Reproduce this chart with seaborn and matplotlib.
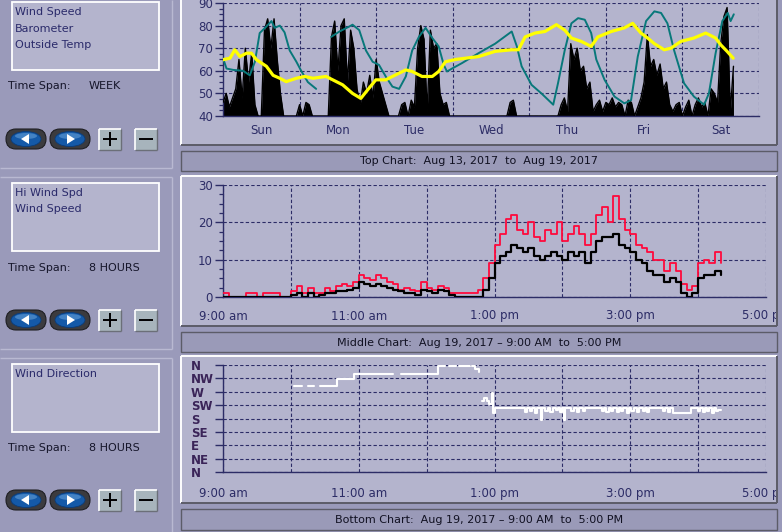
import numpy as np
import pandas as pd
import matplotlib
matplotlib.use("Agg")
import matplotlib.pyplot as plt
import seaborn as sns
from matplotlib.patches import Rectangle, FancyBboxPatch, Ellipse, Polygon
from matplotlib.transforms import Bbox, TransformedBbox
from matplotlib.ticker import MultipleLocator, FixedLocator

# ------------------------------------------------------------------ data
legend_top = ["Wind Speed", "Barometer", "Outside Temp"]
legend_mid = ["Hi Wind Spd", "Wind Speed"]
legend_bot = ["Wind Direction"]
span_values = ["WEEK", "8 HOURS", "8 HOURS"]
title_top = "Top Chart:  Aug 13, 2017  to  Aug 19, 2017"
title_mid = "Middle Chart:  Aug 19, 2017 \u2013 9:00 AM  to  5:00 PM"
title_bot = "Bottom Chart:  Aug 19, 2017 \u2013 9:00 AM  to  5:00 PM"

day_labels = ["Sun", "Mon", "Tue", "Wed", "Thu", "Fri", "Sat"]
top_yticks = [40, 50, 60, 70, 80, 90]

# hourly wind speed (display scale) from Sun 00:00
week_wind = [46, 50, 44, 48, 52, 65, 48, 70, 55, 68, 45, 40, 40,
             78, 83, 70, 83, 65, 50, 40,
             40, 40, 40, 40,
             45, 40, 46, 45, 40,
             40, 40, 40, 40, 40,
             75, 82, 60, 80, 83, 55, 78, 70, 52,
             45, 55, 50, 58, 48, 65, 55, 50, 45,
             40, 40, 40, 40,
             45, 46, 40, 47, 44,
             70, 80, 74, 42, 78, 70, 72, 50, 45, 46, 40,
             40, 40, 40, 40, 40, 40, 40, 40, 40, 40, 40, 40, 40, 40, 40, 40, 40, 40,
             46, 47, 40,
             40, 40, 40, 40, 40, 40, 40, 40, 40, 40, 40, 40, 40,
             45, 48, 42, 72, 65, 70, 60, 62, 52, 55, 42,
             45, 47, 42, 46, 45, 48, 44, 46, 45, 40, 47, 46, 40, 44, 48,
             55, 76, 62, 65, 58, 63, 52, 55, 45, 42,
             45, 46, 40, 44, 47, 40, 45, 48, 44, 46, 40, 52, 50, 46,
             72, 84, 88, 42, 62]

temp_hours = [0, 1.1, 3.2, 6.3, 8.4, 10.0, 11.5, 13.6, 15.2, 16.2,
              17.8, 19.3, 20.9, 23.0, 24.5, 26.6, 29.2, 31.0, 33.9, 36.5,
              39.6, 40.6, 42.7, 44.8, 46.9, 48.9, 51.0, 53.1, 55.2, 57.3,
              59.3, 61.4, 63.5, 65.6, 67.6, 69.2, 70.2, 71.8, 74.9, 80.1,
              85.3, 90.5, 92.1, 93.6, 96.7, 99.8, 103.5, 105.0, 107.1, 109.2,
              111.3, 113.4, 115.4, 117.0, 119.6, 122.7, 125.8, 127.9, 130.0, 132.6,
              135.2, 137.3, 139.3, 141.4, 144.5, 147.6, 150.8, 152.3, 154.4, 156.5,
              158.2, 159.1, 160.1]
temp_values = [65.6, 61, 60.4, 60, 58, 64, 76.7, 79.6, 82, 79,
               80, 77, 69, 64, 60, 55, 52, np.nan, 75, 77.4,
               79.6, 80.4, 78, 69, 64, 62.6, 57.5, 53, 52, 57.5,
               69, 75, 79, 74.5, 70.8, 62.6, 59.7, 61, 63.4, 67.8,
               72, 77.4, 70.8, 62, 53.8, 50, 45, 54.5, 69, 81,
               83.3, 82.6, 76.7, 65, 56, 48.6, 45.6, 47, 66.3, 82,
               86.3, 85.6, 81, 69, 54.5, 48.6, 45, 50, 67.8, 82,
               85.6, 82, 85]

baro_hours = [0, 2.2, 3.7, 5.3, 7.4, 8.9, 10.5, 13.6, 15.7, 17.8,
              19.8, 23.0, 25.6, 28.2, 32.3, 34.4, 37.5, 40.6, 43.2, 45.3,
              47.9, 51.0, 53.1, 57.3, 59.3, 62.4, 65.6, 67.6, 69.7, 72.8,
              80.1, 85.3, 90.5, 92.6, 94.7, 97.8, 100.9, 104.5, 107.1, 109.2,
              112.3, 115.4, 117.5, 121.7, 125.8, 128.4, 131.0, 133.1, 135.2, 138.3,
              140.4, 143.5, 147.6, 151.3, 154.4, 156.0, 158.0, 159.9]
baro_values = [64.9, 65.6, 69.3, 66.3, 67.8, 67.8, 64.9, 62, 58, 56.7,
               55.2, 56.7, 57.5, 56.7, 57.5, 56, 53.8, 50, 47.8, 51.5,
               56, 56, 57.5, 60.4, 59.7, 57.5, 57.5, 59.7, 64, 65,
               66.3, 68.6, 69.3, 69.3, 75, 76.7, 77.4, 80.4, 78, 74.5,
               73, 70.8, 75, 77.4, 79, 81, 76.7, 74.5, 72, 69.3,
               70, 73, 74.5, 76.7, 74.5, 71.5, 68.6, 65.6]

# middle chart: 5-minute samples from 9:00
mid_minutes = list(range(0, 445, 5))
hi_wind = [1, 0, 0, 0, 1, 1, 0, 1, 1, 1, 0, 0,
           1.5, 3, 1, 2.5, 1, 1, 2.5, 1.5, 3, 3.5, 3, 4,
           6, 5, 4.5, 6, 5, 4, 3.5, 2, 2.5, 2, 1.5, 4,
           2.5, 2, 3, 2.5, 1, 1, 1, 1, 1, 2, 5, 9,
           14, 17, 21, 22, 18, 17, 20, 16, 15, 18, 17, 20,
           15, 17, 19, 17, 14, 17, 22, 24, 20, 27, 21, 18,
           17, 14, 13, 12, 10, 10, 7, 9, 7, 3.5, 2, 3,
           9, 10, 9, 12, 9]
wind_8h = [0, 0, 0, 0, 0, 0, 0, 0, 0, 0, 0, 0,
           0.5, 1, 0, 1, 0, 0.5, 1, 1, 1.5, 1.5, 2, 2.5,
           4, 3.5, 3, 3.5, 3, 2.5, 2, 1.5, 1, 1, 0.5, 2,
           1.5, 1, 2, 1.5, 0.5, 0, 0, 0, 0, 0, 2, 5,
           9, 11, 12, 14, 13, 12, 13, 11, 10, 11, 12, 11,
           10, 12, 11, 12, 9, 12, 15, 16, 16, 17, 14, 13,
           12, 10, 9, 7, 6, 6, 4, 5, 4, 1, 0, 1,
           5, 6, 6, 7, 6]
mid_yticks = [0, 10, 20, 30]
hour_ticks = [9, 11, 13, 15, 17]
hour_labels = ["9:00 am", "11:00 am", "1:00 pm", "3:00 pm", "5:00 pm"]

# bottom chart: wind direction (degrees), minutes after 9:00; NaN = gap
dir_minutes = [63, 70, 71, 75, 80, 81, 86, 101, 116, 150, 151, 153, 155, 157, 190,
               196, 197, 200, 206, 207, 209, 218, 219, 220, 223, 226, 227,
               229, 231, 233, 235, 238, 239, 240, 265,
               267, 269, 271, 273, 276, 278, 281, 282, 285, 287, 289, 292, 294, 296,
               298, 300, 301.5, 302.5, 305, 308, 310, 313, 315, 318, 320, 323,
               335, 337, 339, 341, 343, 345, 348, 350, 352, 354, 357, 359, 361, 363,
               366, 368, 371, 373, 375, 377, 389, 391, 393, 395, 398, 414,
               420, 422, 424, 426, 428, 430, 432, 434, 436, 438, 440]
dir_values = [289, 289, np.nan, 289, 289, np.nan, 289, 312, 330, 330, np.nan, 330, np.nan, 330, 357,
              357, np.nan, 357, 357, np.nan, 357, 357, np.nan, 357, 345, 335, np.nan,
              240, 250, 238, 228, 265, 200, 217, 217,
              203, 217, 205, 217, 200, 217, 175, 217, 205, 217, 203, 217, 207, 217,
              203, 217, 175, 217, 217, 205, 217, 203, 217, 205, 217, 217,
              205, 217, 203, 217, 205, 217, 203, 217, 205, 217, 200, 217, 205, 217,
              203, 217, 205, 217, 203, 217, 205, 217, 203, 217, 200, 217,
              205, 217, 203, 217, 205, 217, 200, 217, 205, 210, 210]
dir_ticks = [0, 45, 90, 135, 180, 225, 270, 315, 360]
dir_labels = ["N", "NE", "E", "SE", "S", "SW", "W", "NW", "N"]

# ------------------------------------------------------------------ style
sns.set_theme(style="white")
plt.rcParams["font.family"] = ["DejaVu Sans"]
plt.rcParams["axes.axisbelow"] = True

LEFT_BG = "#9a9aba"
PANEL = "#b4b4cd"
BAR = "#9a9ab8"
NAVY = "#2c2c66"
DARKEDGE = "#5c5c68"
LIGHTLINE = "#b9b9d2"
TXT = "#2a2a6a"

W, H = 782, 532
fig = plt.figure(figsize=(W / 100, H / 100), dpi=100)
bg = fig.add_axes([0, 0, 1, 1], zorder=0)
bg.set_xlim(0, W)
bg.set_ylim(H, 0)
bg.axis("off")
bg.add_patch(Rectangle((0, 0), W, H, facecolor=LEFT_BG, edgecolor="none"))


def line(xs, ys, color, lw=1.0):
    bg.plot(xs, ys, color=color, lw=lw, solid_capstyle="butt")


def panel(x0, y0, x1, y1):
    bg.add_patch(Rectangle((x0, y0), x1 - x0, y1 - y0, facecolor=PANEL, edgecolor="none"))
    line([x0, x0], [y1, y0], "white", 1.4)
    line([x0, x1], [y0, y0], "white", 1.4)
    line([x1, x1], [y0, y1], DARKEDGE, 1.4)
    line([x0, x1], [y1, y1], DARKEDGE, 1.4)


def title_bar(x0, y0, x1, y1, text):
    bg.add_patch(Rectangle((x0, y0), x1 - x0, y1 - y0, facecolor=BAR,
                           edgecolor=DARKEDGE, lw=1.0))
    bg.text((x0 + x1) / 2, (y0 + y1) / 2 + 0.5, text, ha="center", va="center",
            fontsize=8, color="#111122")


def nav_button(cx, cy, direction):
    bg.add_patch(FancyBboxPatch((cx - 20, cy - 10), 40, 20,
                                boxstyle="round,pad=0,rounding_size=10",
                                facecolor="#3b3b3f", edgecolor="#1e1e22", lw=0.8))
    bg.add_patch(Ellipse((cx, cy), 30, 15, facecolor="#1459a8", edgecolor="#0c3c78", lw=0.6))
    bg.add_patch(Ellipse((cx, cy - 3), 22, 6, facecolor="#6aa4dc", edgecolor="none", alpha=0.55))
    if direction < 0:
        pts = [(cx - 5, cy), (cx + 3, cy - 5), (cx + 3, cy + 5)]
    else:
        pts = [(cx + 5, cy), (cx - 3, cy - 5), (cx - 3, cy + 5)]
    bg.add_patch(Polygon(pts, closed=True, facecolor="white", edgecolor="none"))


def sq_button(x0, y0, plus):
    bg.add_patch(Rectangle((x0, y0), 22, 21, facecolor="#a7b4bc", edgecolor="none"))
    line([x0, x0], [y0 + 21, y0], "white", 1.2)
    line([x0, x0 + 22], [y0, y0], "white", 1.2)
    line([x0 + 22, x0 + 22], [y0, y0 + 21], "#6b6f78", 1.0)
    line([x0, x0 + 22], [y0 + 21, y0 + 21], "#6b6f78", 1.0)
    cx, cy = x0 + 11, y0 + 10.5
    line([cx - 7, cx + 7], [cy, cy], "black", 1.4)
    if plus:
        line([cx, cx], [cy - 7, cy + 7], "black", 1.4)


def left_section(y_top, y_bot, box_top, items, span, btn_y, span_y):
    line([172, 172], [y_top, y_bot], LIGHTLINE, 1.0)
    if y_top > 0:
        line([0, 172], [y_top, y_top], LIGHTLINE, 1.0)
    if y_bot < H:
        line([0, 172], [y_bot, y_bot], LIGHTLINE, 1.0)
    bg.add_patch(Rectangle((12, box_top), 147, 68, facecolor=PANEL, edgecolor="white", lw=1.3))
    for i, it in enumerate(items):
        bg.text(15, box_top + 10 + i * 16.5, it, ha="left", va="center", fontsize=8, color=TXT)
    bg.text(8, span_y, "Time Span:", ha="left", va="center", fontsize=8, color="#15152a")
    bg.text(89, span_y, span, ha="left", va="center", fontsize=8, color="#15152a")
    nav_button(26, btn_y, -1)
    nav_button(70, btn_y, 1)
    sq_button(99, btn_y - 10.5, True)
    sq_button(135, btn_y - 10.5, False)


left_section(0, 168, 2, legend_top, span_values[0], 139, 86)
left_section(177, 349, 183, legend_mid, span_values[1], 320, 268)
left_section(358, H + 2, 364, legend_bot, span_values[2], 500, 448)

panel(181, -2, 777, 145)
panel(181, 176, 777, 326)
panel(181, 356, 777, 503)
title_bar(181, 151, 777, 171, title_top)
title_bar(181, 332, 777, 352, title_mid)
title_bar(181, 509, 777, 530, title_bot)


def px_axes(x0, y0, x1, y1):
    ax = fig.add_axes([x0 / W, 1 - y1 / H, (x1 - x0) / W, (y1 - y0) / H], zorder=2)
    ax.patch.set_alpha(0)
    for s in ["top", "right"]:
        ax.spines[s].set_visible(False)
    for s in ["left", "bottom"]:
        ax.spines[s].set_color(NAVY)
        ax.spines[s].set_linewidth(1.0)
    ax.set_xlabel("")
    ax.set_ylabel("")
    return ax


GRID = dict(color=NAVY, linestyle=(0, (3, 2)), linewidth=0.8)
clip_box = TransformedBbox(Bbox.from_extents(0, 0, 776 / W, 1), fig.transFigure)

# ------------------------------------------------------------------ top chart
ax1 = px_axes(223, 3, 759, 116)
df_wind = pd.DataFrame({"hour": np.arange(len(week_wind)), "Wind Speed": week_wind})
ax1.fill_between(df_wind["hour"], 40, df_wind["Wind Speed"], color="black", lw=0, zorder=2)
sns.lineplot(data=df_wind, x="hour", y="Wind Speed", ax=ax1, color="black", lw=1.0,
             estimator=None, zorder=3)
df_temp = pd.DataFrame({"hour": temp_hours, "Outside Temp": temp_values})
df_temp["seg"] = df_temp["Outside Temp"].isna().cumsum()
df_temp = df_temp.dropna()
sns.lineplot(data=df_temp, x="hour", y="Outside Temp", units="seg", estimator=None,
             ax=ax1, color="#08787a", lw=1.4, zorder=4)
df_baro = pd.DataFrame({"hour": baro_hours, "Barometer": baro_values})
sns.lineplot(data=df_baro, x="hour", y="Barometer", ax=ax1, color="#ffff00", lw=2.3,
             estimator=None, zorder=5)
ax1.set_xlim(0, 168)
ax1.set_ylim(40, 90)
ax1.set_xticks([12 + 24 * i for i in range(7)])
ax1.set_xticklabels(day_labels)
ax1.xaxis.set_minor_locator(FixedLocator([24 * i for i in range(1, 8)]))
ax1.set_yticks(top_yticks)
ax1.yaxis.set_minor_locator(MultipleLocator(2.5))
ax1.xaxis.grid(True, which="minor", **GRID)
ax1.yaxis.grid(True, which="major", **GRID)
ax1.set_xlabel("")
ax1.set_ylabel("")

# ------------------------------------------------------------------ middle chart
ax2 = px_axes(223, 185, 766, 297)
df_mid = pd.DataFrame({"time": [9 + m / 60 for m in mid_minutes],
                       "Hi Wind Spd": hi_wind, "Wind Speed": wind_8h})
sns.lineplot(data=df_mid, x="time", y="Hi Wind Spd", ax=ax2, color="#ff0a3c", lw=1.3,
             drawstyle="steps-post", estimator=None, zorder=3)
sns.lineplot(data=df_mid, x="time", y="Wind Speed", ax=ax2, color="black", lw=1.6,
             drawstyle="steps-post", estimator=None, zorder=4)
ax2.set_xlim(9, 17)
ax2.set_ylim(0, 30)
ax2.set_xticks(hour_ticks)
ax2.set_xticklabels(hour_labels)
ax2.xaxis.set_minor_locator(MultipleLocator(1))
ax2.set_yticks(mid_yticks)
ax2.yaxis.set_minor_locator(MultipleLocator(2.5))
ax2.xaxis.grid(True, which="both", **GRID)
ax2.yaxis.grid(True, which="major", **GRID)
ax2.set_xlabel("")
ax2.set_ylabel("")

# ------------------------------------------------------------------ bottom chart
ax3 = px_axes(223, 365, 766, 472)
df_dir = pd.DataFrame({"time": [9 + m / 60 for m in dir_minutes], "Wind Direction": dir_values})
df_dir["seg"] = df_dir["Wind Direction"].isna().cumsum()
df_dir = df_dir.dropna()
sns.lineplot(data=df_dir, x="time", y="Wind Direction", units="seg", estimator=None,
             ax=ax3, color="white", lw=1.5, drawstyle="steps-post", zorder=3)
ax3.set_xlim(9, 17)
ax3.set_ylim(0, 360)
ax3.set_xticks(hour_ticks)
ax3.set_xticklabels(hour_labels)
ax3.xaxis.set_minor_locator(MultipleLocator(1))
ax3.set_yticks(dir_ticks)
ax3.set_yticklabels(dir_labels)
ax3.xaxis.grid(True, which="both", **GRID)
ax3.yaxis.grid(True, which="major", **GRID)
ax3.set_xlabel("")
ax3.set_ylabel("")

# ------------------------------------------------------------------ ticks
for ax in (ax1, ax2):
    ax.tick_params(axis="y", which="major", direction="out", length=5.8, width=1.0,
                   color=NAVY, pad=1.5, labelsize=8.5, labelcolor=NAVY, left=True)
    ax.tick_params(axis="y", which="minor", direction="out", length=2.9, width=0.9,
                   color=NAVY, left=True)
for ax, pad in ((ax1, 6), (ax2, 9), (ax3, 11)):
    ax.tick_params(axis="x", which="both", length=0, pad=pad, labelsize=8.5,
                   labelcolor=NAVY)
    for lbl in ax.get_xticklabels():
        lbl.set_clip_box(clip_box)
        lbl.set_clip_on(True)

ax3.tick_params(axis="y", which="major", direction="out", length=5.8, width=1.0,
                color=NAVY, pad=17.2, labelsize=8.5, labelcolor="#3a2458", left=True)
for lbl in ax3.get_yticklabels():
    lbl.set_horizontalalignment("left")
    lbl.set_fontweight("bold")

fig.savefig("out.png", dpi=100)
